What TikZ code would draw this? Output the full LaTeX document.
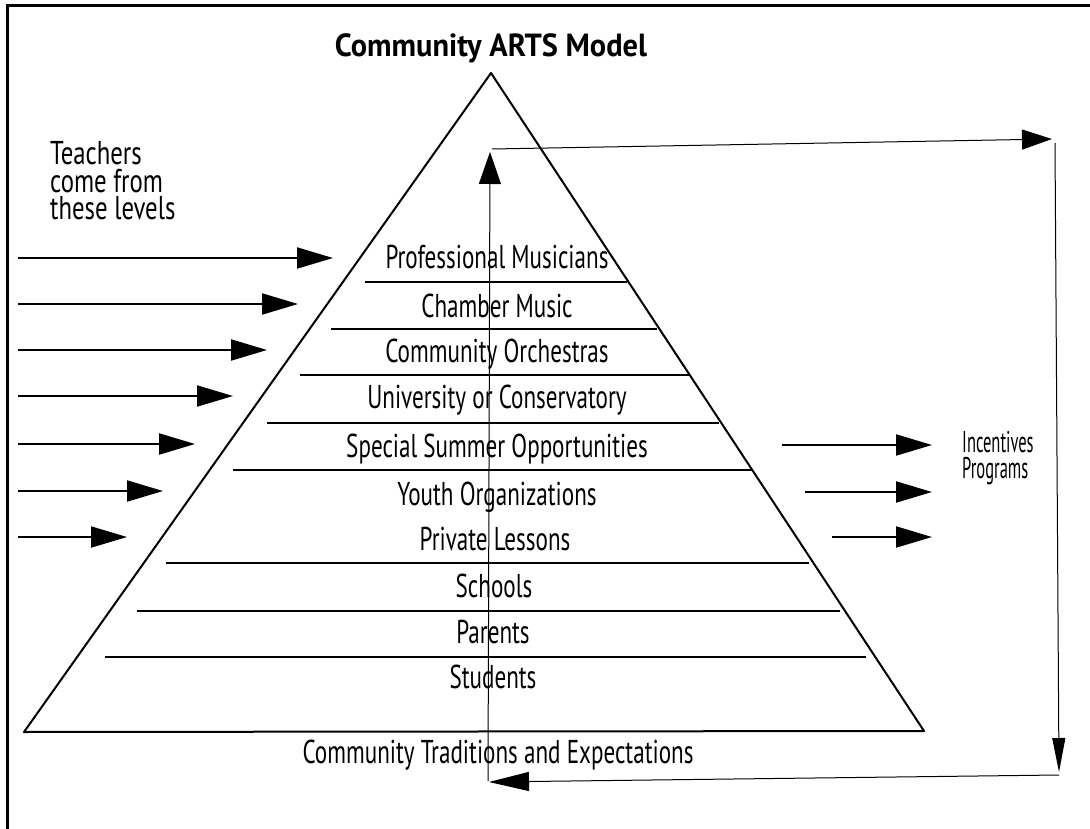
\documentclass[tikz,border=0pt]{standalone}
\usepackage{fontspec}
\usetikzlibrary{arrows.meta}
\newfontfamily\lab{PT Sans}[FakeStretch=0.70]
\newfontfamily\sidef{PT Sans}[FakeStretch=0.75]
\newfontfamily\titlef{PT Sans}[FakeStretch=0.95]
\newfontfamily\incf{PT Sans}[FakeStretch=0.55]
\begin{document}
\begin{tikzpicture}[x=1pt,y=-1pt,
  edge/.style={line width=2pt, line join=round},
  sepline/.style={line width=2pt},
  tarrow/.style={line width=2pt, -{Triangle[length=36pt,width=21pt]}},
  loopline/.style={line width=1pt},
  lvl/.style={font=\lab\fontsize{33}{36}\selectfont, anchor=base, inner sep=0pt},
  side/.style={font=\sidef\fontsize{33}{36}\selectfont, anchor=base west, inner sep=0pt},
  inc/.style={font=\incf\fontsize{30}{32}\selectfont, anchor=base west, inner sep=0pt},
  ttl/.style={font=\titlef\bfseries\fontsize{32}{36}\selectfont, anchor=base, inner sep=0pt}
]
\useasboundingbox (0,0) rectangle (1090,829);
\fill[white] (0,0) rectangle (1090,829);
% frame
\draw[line width=3pt] (7,829) -- (7,6) -- (1090,6);

% title
\node[ttl] (title) at (491,57) {Community ARTS Model};

% pyramid
\coordinate (apex) at (491,73);
\coordinate (bl) at (24,732);
\coordinate (br) at (924,731);
\draw[edge] (apex) -- (bl) -- (br) -- cycle;

% level separators
\foreach \y/\a/\b in {282/365/627, 329/331/657, 375/300/690, 423/267/719,
                      470/233/752, 563/166/809, 611/137/840, 657/105/866}
  \draw[sepline] (\a,\y) -- (\b,\y);

% level labels
\node[lvl] (prof)  at (497,269) {Professional Musicians};
\node[lvl] (cham)  at (497,317) {Chamber Music};
\node[lvl] (corch) at (497,362) {Community Orchestras};
\node[lvl] (univ)  at (497,408) {University or Conservatory};
\node[lvl] (summ)  at (497,457) {Special Summer Opportunities};
\node[lvl] (youth) at (497,505) {Youth Organizations};
\node[lvl] (priv)  at (495,550) {Private Lessons};
\node[lvl] (schl)  at (494,597) {Schools};
\node[lvl] (par)   at (493,643) {Parents};
\node[lvl] (stud)  at (493,688) {Students};
\node[lvl] (trad)  at (498,763) {Community Traditions and Expectations};

% side texts
\node[side] (teach1) at (50,165) {Teachers};
\node[side] (teach2) at (50,192.5) {come from};
\node[side] (teach3) at (50,220) {these levels};
\node[inc] (incent1) at (962,452) {Incentives};
\node[inc] (incent2) at (962,478) {Programs};

% teacher arrows
\foreach \i/\y/\t in {1/258/333, 2/304/298, 3/350/267, 4/396/233,
                      5/444/195, 6/491/163, 7/537/127} {
  \coordinate (ls\i) at (18,\y);
  \coordinate (lt\i) at (\t,\y);
  \draw[tarrow] (ls\i) -- (lt\i);
}

% incentive arrows
\foreach \i/\y/\s in {1/445/782, 2/492/805, 3/537/832} {
  \coordinate (rs\i) at (\s,\y);
  \coordinate (rt\i) at (932,\y);
  \draw[tarrow] (rs\i) -- (rt\i);
}

% feedback loop
\coordinate (lpBL) at (488,781);
\coordinate (lpTL) at (490,152);
\coordinate (lpTLb) at (492,149);
\coordinate (lpTR) at (1052,139);
\coordinate (lpTRb) at (1055,143);
\coordinate (lpBR) at (1059,772);
\coordinate (lpBRb) at (1059,775);
\coordinate (lpBLb) at (489,782);
\draw[loopline, -{Triangle[length=32pt,width=22pt]}] (lpBL) -- (lpTL);
\draw[loopline, -{Triangle[length=30pt,width=20pt]}] (lpTLb) -- (lpTR);
\draw[loopline, -{Triangle[length=34pt,width=13pt]}] (lpTRb) -- (lpBR);
\draw[loopline, -{Triangle[length=40pt,width=19pt]}] (lpBRb) -- (lpBLb);
\end{tikzpicture}
\end{document}
